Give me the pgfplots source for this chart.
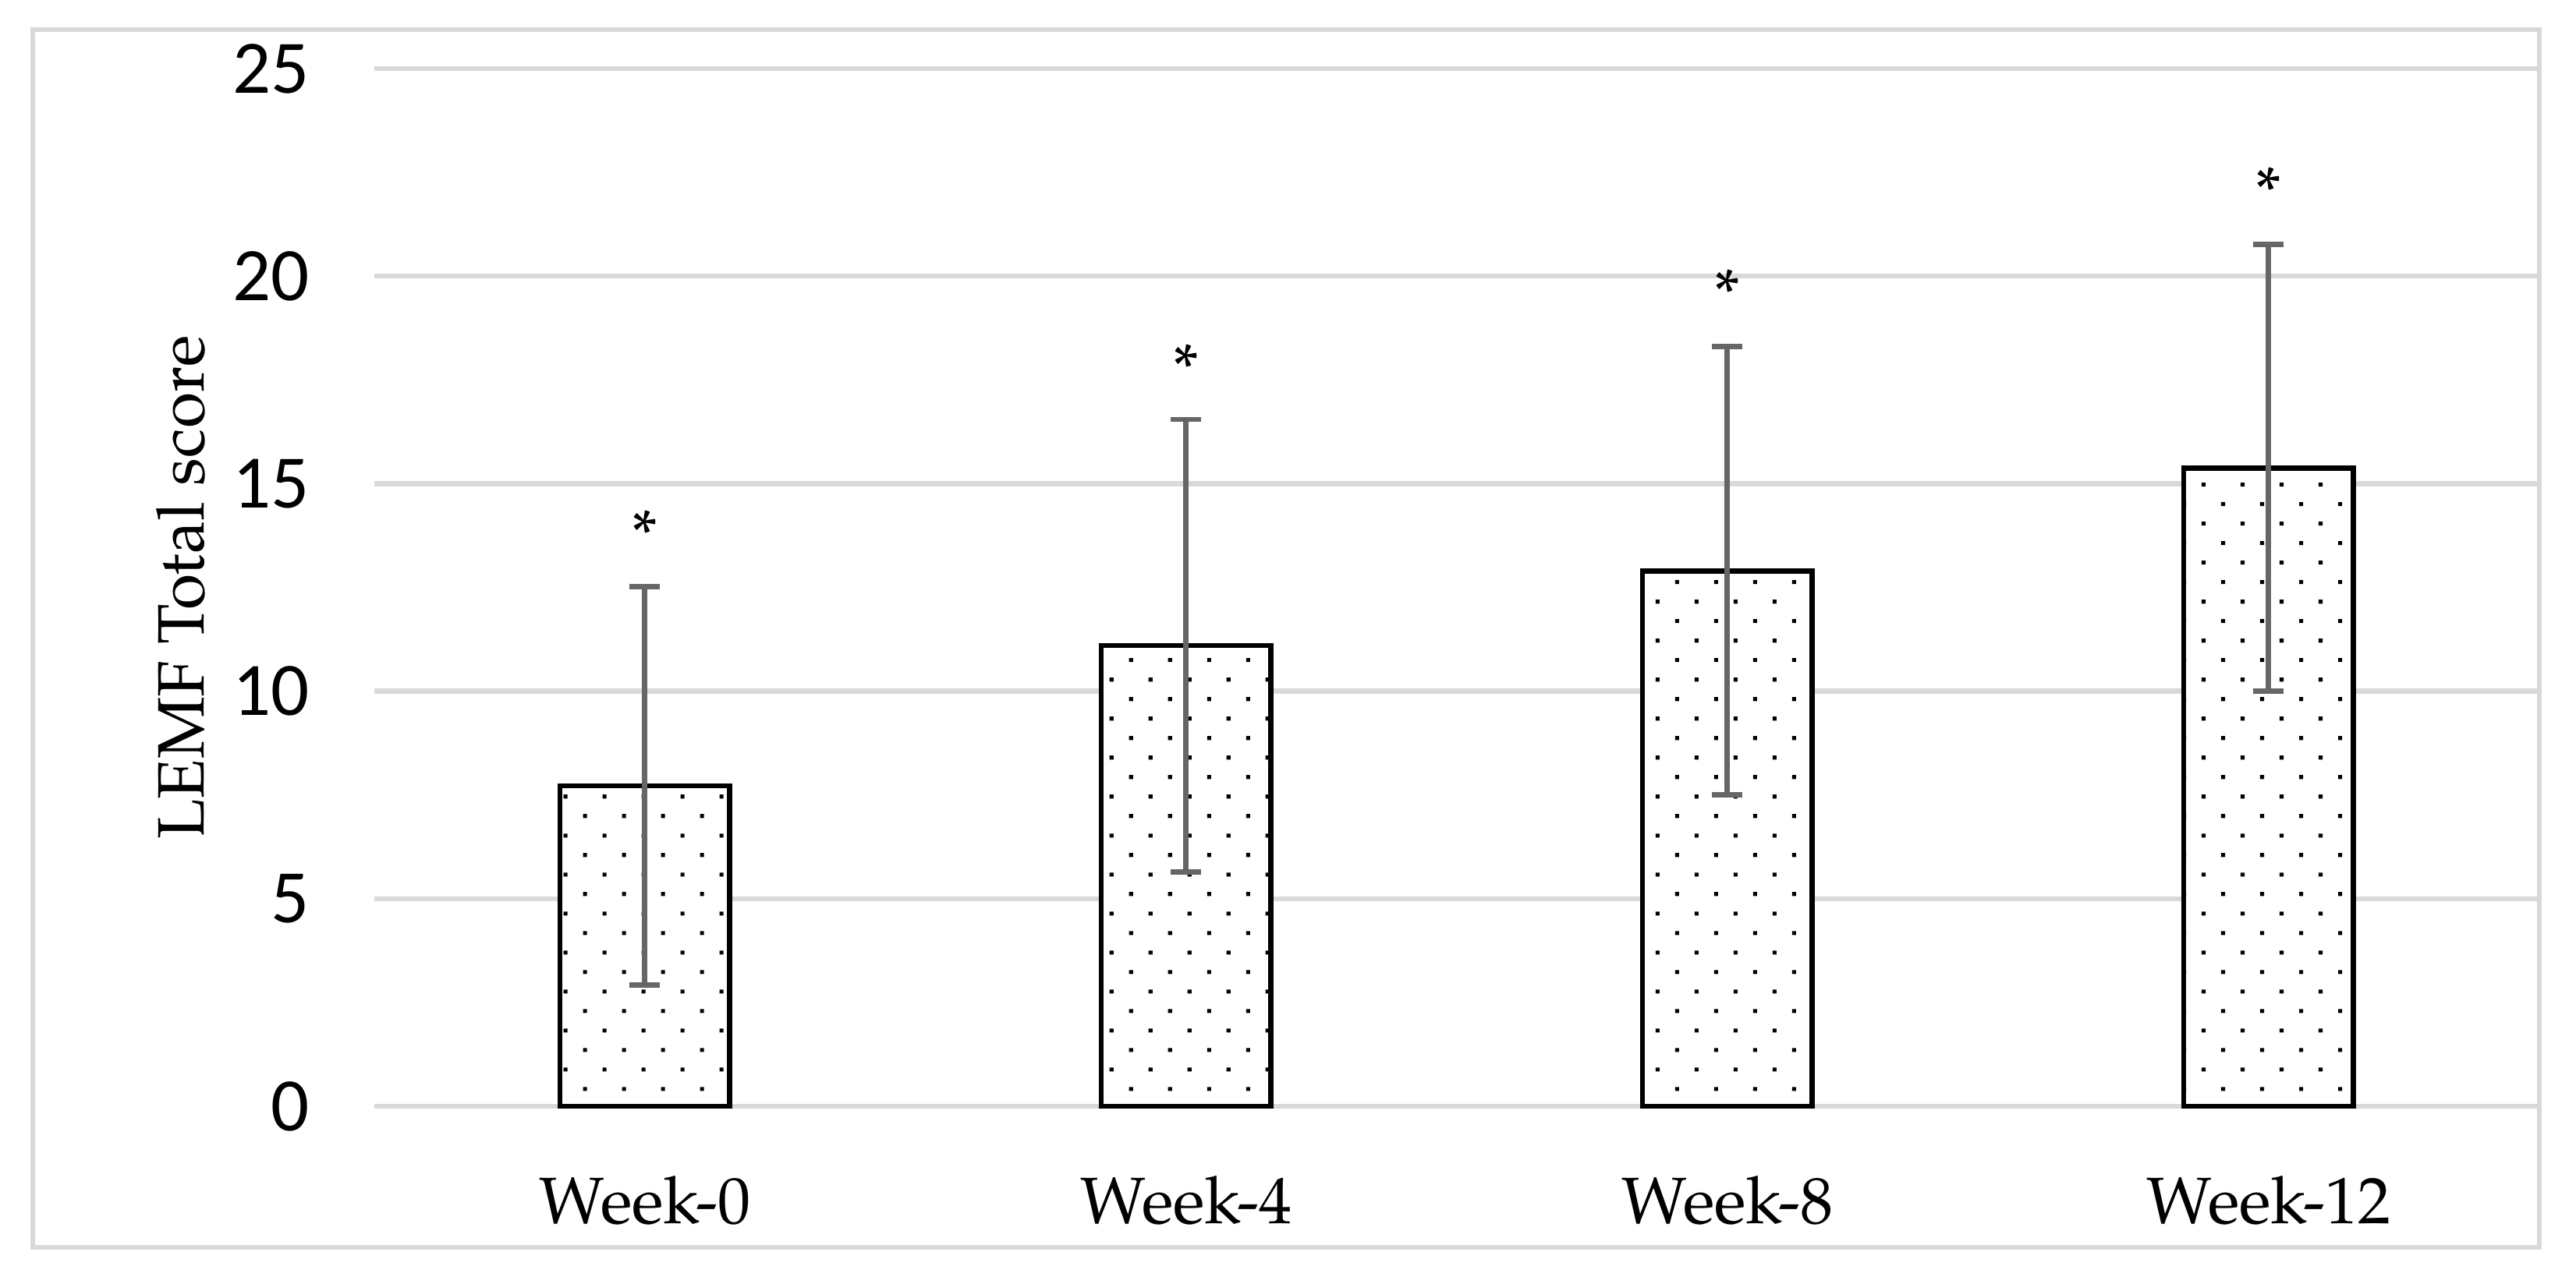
\documentclass[border=0pt]{standalone}
\usepackage{fontspec}
\setmainfont{TeX Gyre Pagella}
\newfontfamily\carlito{Carlito}
\usepackage{pgfplots}
\pgfplotsset{compat=1.18}
\usetikzlibrary{patterns}
\definecolor{gridgray}{HTML}{D9D9D9}
\definecolor{errgray}{HTML}{666666}
\pgfdeclarepatternformonly{sparsedots}{\pgfqpoint{-1bp}{-1bp}}{\pgfqpoint{12.87bp}{12.87bp}}{\pgfqpoint{11.87bp}{11.87bp}}{%
  \pgfpathrectangle{\pgfqpoint{-0.6bp}{-0.6bp}}{\pgfqpoint{1.2bp}{1.2bp}}%
  \pgfpathrectangle{\pgfqpoint{5.33bp}{5.33bp}}{\pgfqpoint{1.2bp}{1.2bp}}%
  \pgfusepath{fill}}
\begin{document}
\begin{tikzpicture}
\useasboundingbox (0,0) rectangle (784bp,390.9bp);
\draw[line width=1.5bp, draw=gridgray] (10bp,11.2bp) rectangle (772.8bp,381.9bp);
\begin{axis}[
  at={(113.9bp,54.1bp)}, anchor=south west,
  scale only axis, width=658.9bp, height=315.9bp,
  xmin=-0.5, xmax=3.5, ymin=0, ymax=25,
  ytick={0,5,10,15,20,25},
  xtick={0,1,2,3},
  xticklabels={Week-0,Week-4,Week-8,Week-12},
  axis line style={draw=none},
  major tick length=0pt,
  ymajorgrids,
  grid style={line width=1.5bp, draw=gridgray},
  /pgf/number format/assume math mode=true,
  yticklabel style={font=\carlito\fontsize{23bp}{27bp}\selectfont, anchor=east, inner sep=0pt, xshift=-19.6bp},
  xticklabel style={font=\fontsize{20bp}{24bp}\selectfont, anchor=north, inner sep=0pt, yshift=-21bp},
  ylabel={LEMF Total score},
  ylabel style={at={(axis description cs:-0.0788,0.5)}, anchor=base, inner sep=0pt, font=\fontsize{20bp}{24bp}\selectfont},
  clip=false,
]
\addplot[ybar, bar width=51.7bp, draw=black, line width=1.6bp, fill=white,
  postaction={pattern=sparsedots},
  error bars/.cd, y dir=both, y explicit,
  error bar style={line width=1.6bp, color=errgray},
  error mark options={line width=1.6bp, color=errgray, mark size=4.6bp, rotate=90}]
  coordinates {
    (0,7.72) +- (0,4.80)
    (1,11.10) +- (0,5.45)
    (2,12.90) +- (0,5.40)
    (3,15.38) +- (0,5.38)
  };
\addplot[draw=none, mark=none, nodes near coords={*},
  every node near coord/.style={anchor=center, inner sep=0pt, font=\fontsize{20bp}{24bp}\selectfont}]
  coordinates {(0,13.8) (1,17.8) (2,19.6) (3,22.07)};
\end{axis}
\end{tikzpicture}
\end{document}
